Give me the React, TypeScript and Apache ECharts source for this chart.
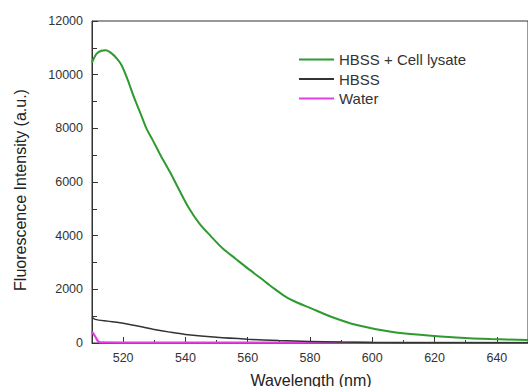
import React, { useEffect, useRef } from "react";
import * as echarts from "echarts";

const lysateX = [510, 511.5, 513, 514.5, 516, 518, 519.5, 521.5, 523.5, 525.5, 527.5, 529.5, 532, 535, 538, 541, 544.5, 548, 552, 556, 560, 564, 568, 572, 576, 580, 587, 595, 606, 617, 627, 638, 650];
const lysateY = [10450, 10780, 10890, 10910, 10820, 10600, 10350, 9800, 9150, 8580, 7990, 7560, 7000, 6380, 5700, 5050, 4450, 4000, 3520, 3150, 2780, 2430, 2070, 1740, 1500, 1310, 970, 670, 420, 290, 205, 145, 110];

const hbssX = [510, 511, 515, 519, 525, 530, 535, 540, 550, 560, 570, 580, 590, 600, 620, 650];
const hbssY = [960, 880, 815, 755, 625, 505, 405, 320, 210, 140, 90, 60, 35, 20, 10, 5];

const waterX = [510, 511, 512.5, 520, 650];
const waterY = [420, 250, 20, 15, 10];

const seriesNames = ["HBSS + Cell lysate", "HBSS", "Water"];
const seriesColors = ["#2f9a2f", "#333333", "#e040e0"];

const FONT = "Liberation Sans, Arial, sans-serif";

function pairs(xs: number[], ys: number[]) {
  return xs.map((x, i) => [x, ys[i]]);
}

export default function App() {
  const ref = useRef<HTMLDivElement>(null);
  useEffect(() => {
    if (!ref.current) return;
    const chart = echarts.init(ref.current, null, { renderer: "svg" });
    const datasets = [pairs(lysateX, lysateY), pairs(hbssX, hbssY), pairs(waterX, waterY)];
    const widths = [2, 1.5, 2.2];
    chart.setOption({
      animation: false,
      backgroundColor: "#ffffff",
      grid: {
        left: 92,
        top: 21,
        right: -2,
        bottom: 44,
        show: true,
        borderColor: "#333",
        borderWidth: 1,
        backgroundColor: "transparent",
      },
      legend: {
        orient: "vertical",
        left: 298,
        top: 52,
        padding: 0,
        itemWidth: 35,
        itemHeight: 14,
        itemGap: 4.5,
        data: seriesNames,
        itemStyle: { opacity: 0 },
        textStyle: { fontFamily: FONT, fontSize: 15, color: "#333" },
      },
      xAxis: [
        {
          type: "value",
          min: 510,
          max: 650,
          splitNumber: 7,
          axisLine: { show: true, onZero: false, lineStyle: { color: "#333", width: 1 } },
          axisTick: { show: true, inside: true, length: 6, lineStyle: { color: "#333" } },
          splitLine: { show: false },
          axisLabel: {
            showMinLabel: false,
            showMaxLabel: false,
            fontFamily: FONT,
            fontSize: 12.5,
            color: "#333",
            margin: 8,
          },
        },
        {
          type: "value",
          min: 510,
          max: 650,
          interval: 10,
          position: "bottom",
          axisLine: { show: false },
          axisTick: { show: true, inside: true, length: 3, lineStyle: { color: "#333" } },
          axisLabel: { show: false },
          splitLine: { show: false },
        },
      ],
      yAxis: {
        type: "value",
        min: 0,
        max: 12000,
        interval: 2000,
        axisLine: { show: true, lineStyle: { color: "#333", width: 1 } },
        axisTick: { show: true, inside: true, length: 6, lineStyle: { color: "#333" } },
        minorTick: { show: true, splitNumber: 2, length: 5, lineStyle: { color: "#333" } },
        splitLine: { show: false },
        axisLabel: {
          fontFamily: FONT,
          fontSize: 12.5,
          color: "#333",
          margin: 9,
          formatter: (v: number) => String(v),
        },
      },
      graphic: [
        {
          type: "text",
          x: 20,
          y: 190,
          rotation: Math.PI / 2,
          style: {
            text: "Fluorescence Intensity (a.u.)",
            font: `16px ${FONT}`,
            fill: "#222",
            align: "center",
            verticalAlign: "middle",
          },
        },
        {
          type: "text",
          x: 311,
          y: 380,
          style: {
            text: "Wavelength (nm)",
            font: `16px ${FONT}`,
            fill: "#222",
            align: "center",
            verticalAlign: "middle",
          },
        },
      ],
      series: datasets.map((d, i) => ({
        name: seriesNames[i],
        type: "line",
        xAxisIndex: 0,
        data: d,
        symbol: "none",
        smooth: 0.3,
        z: 5 - i,
        lineStyle: { color: seriesColors[i], width: widths[i] },
        itemStyle: { color: seriesColors[i] },
      })),
    });
    return () => chart.dispose();
  }, []);
  return <div ref={ref} style={{ width: 528, height: 387, position: "absolute", left: 0, top: 0 }} />;
}
